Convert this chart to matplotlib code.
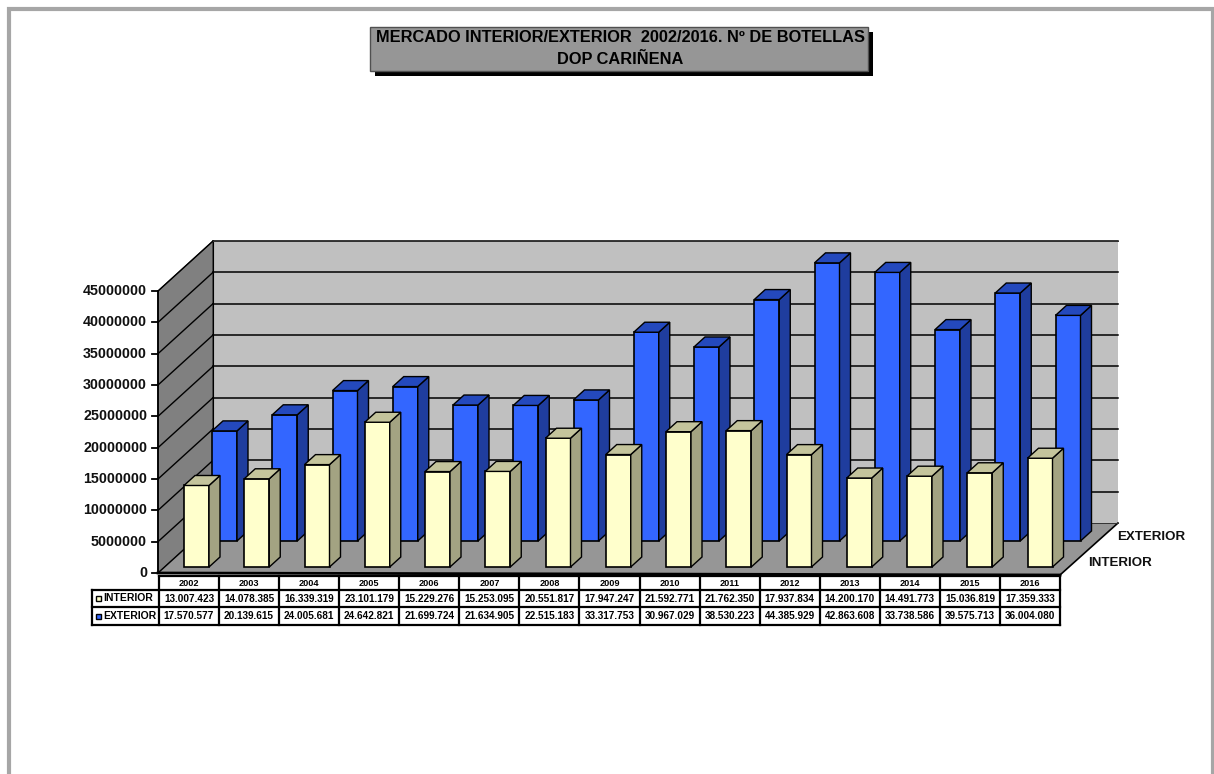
import matplotlib
matplotlib.use('Agg')
import matplotlib.pyplot as plt
from matplotlib.patches import Rectangle, Polygon
from matplotlib.transforms import Affine2D, IdentityTransform, blended_transform_factory

plt.rcParams['font.family'] = ['Liberation Sans', 'DejaVu Sans']
plt.rcParams['font.weight'] = 'bold'

#data
years = ['2002', '2003', '2004', '2005', '2006', '2007', '2008', '2009',
         '2010', '2011', '2012', '2013', '2014', '2015', '2016']
interior = [13007423, 14078385, 16339319, 23101179, 15229276, 15253095, 20551817, 17947247,
            21592771, 21762350, 17937834, 14200170, 14491773, 15036819, 17359333]
exterior = [17570577, 20139615, 24005681, 24642821, 21699724, 21634905, 22515183, 33317753,
            30967029, 38530223, 44385929, 42863608, 33738586, 39575713, 36004080]
yticks = [0, 5000000, 10000000, 15000000, 20000000, 25000000, 30000000, 35000000, 40000000, 45000000]
title = 'MERCADO INTERIOR/EXTERIOR  2002/2016. Nº DE BOTELLAS\nDOP CARIÑENA'

#layout in pixels
W, H = 1214, 774
x0, step = 184, 60.25
y0, per_unit = 573, 31.33 / 5000000
bar_w = 25
dep_x, dep_y = 11, 10
wall_x, wall_y = 55, 50

fig = plt.figure(figsize=(W / 100, H / 100), dpi=100, facecolor='white')
ax = fig.add_axes([0, 0, 1, 1])
ax.set_xlim(-x0 / step, (W - x0) / step)
ax.set_ylim(-(H - y0) / per_unit, y0 / per_unit)
ax.axis('off')

pix = Affine2D().scale(1, -1).translate(0, H)
ident = IdentityTransform()
y_pix = blended_transform_factory(pix, ax.transData)

def poly(points, **kw):
    ax.add_patch(Polygon(points, closed=True, transform=pix, **kw))

def line(xs, ys, lw=1.5, color='black', tr=pix, z=2):
    ax.plot(xs, ys, color=color, lw=lw, transform=tr, solid_capstyle='projecting',
            solid_joinstyle='miter', zorder=z)

#page border
line([9, 9, W - 1, W - 1], [H, 8.5, 8.5, H], lw=3, color='#a6a6a6')

#title box
ax.add_patch(Rectangle((375, 32), 498, 44, transform=pix, fc='black', ec='none'))
ax.add_patch(Rectangle((370, 27), 498, 44, transform=pix, fc='#969696', ec='#505050', lw=1))
ax.text(620.5, 37.5, title.split('\n')[0], transform=pix, ha='center', va='center', fontsize=11.8, color='black')
ax.text(620.5, 59, title.split('\n')[1], transform=pix, ha='center', va='center', fontsize=11.8, color='black')

#walls and floor
left, right, floor_y = 158, 1060, y0
poly([(left, floor_y), (left + wall_x, floor_y - wall_y), (left + wall_x, 241), (left, 291)],
     fc='#808080', ec='#222222', lw=0.8)
poly([(left + wall_x, floor_y - wall_y), (right + 58, floor_y - wall_y), (right + 58, 241),
      (left + wall_x, 241)], fc='#c0c0c0', ec='none')
poly([(left, floor_y), (left + wall_x, floor_y - wall_y), (right + 58, floor_y - wall_y), (right, floor_y + 2)],
     fc='#969696', ec='none')
line([left, right], [floor_y, floor_y + 2], lw=2)
line([right, right + 58], [floor_y + 2, floor_y - wall_y], lw=1.2)

#gridlines and y axis
for v in yticks:
    y = y0 - v * per_unit
    line([left, left + wall_x], [y, y - wall_y], lw=1)
    if v > 0:
        line([left + wall_x, right + 58], [y - wall_y, y - wall_y], lw=1.1)
    ax.plot([152, left], [v, v], color='black', lw=1.3, transform=y_pix, zorder=2)
    ax.text(147, v, str(v), transform=y_pix, ha='right', va='center', fontsize=10.3, color='#111111')
line([left, left], [291, floor_y], lw=1.3)
line([left + wall_x, left + wall_x], [241, floor_y - wall_y], lw=0.8)
line([left + wall_x, right + 58], [241, 241], lw=0.7, color='#333333')
line([left + wall_x, right + 58], [floor_y - wall_y, floor_y - wall_y], lw=0.7, color='#333333')

def bar3d(i, val, off_x, off_y, front, side, top, z):
    tr = ax.transData + Affine2D().translate(off_x, off_y)
    (xa, ya), (_, yb) = tr.transform([(i, 0), (i, val)])
    xb = xa + bar_w
    ax.add_patch(Rectangle((xa, ya), bar_w, yb - ya, transform=ident, fc=front, ec='black', lw=1.2, zorder=z))
    ax.add_patch(Polygon([(xb, ya), (xb + dep_x, ya + dep_y), (xb + dep_x, yb + dep_y), (xb, yb)],
                         transform=ident, fc=side, ec='black', lw=1, zorder=z))
    ax.add_patch(Polygon([(xa, yb), (xa + dep_x, yb + dep_y), (xb + dep_x, yb + dep_y), (xb, yb)],
                         transform=ident, fc=top, ec='black', lw=1, zorder=z))

for i, v in enumerate(exterior):
    bar3d(i, v, 28, 32, '#3366ff', '#1f3d9e', '#2449bd', 3 + i * 0.01)
for i, v in enumerate(interior):
    bar3d(i, v, 0, 6, '#ffffcc', '#a3a382', '#c4c49c', 4 + i * 0.01)

#depth labels
ax.text(1117, 537, 'EXTERIOR', transform=pix, ha='left', va='center', fontsize=9.6, color='#111111')
ax.text(1088, 563, 'INTERIOR', transform=pix, ha='left', va='center', fontsize=9.6, color='#111111')

#data table
def fmt(v):
    return f'{v:,}'.replace(',', '.')

tab_left, tab_right = 159, 1060
col_w = (tab_right - tab_left) / len(years)
rows = [576, 590, 607, 625]
line([tab_left, tab_right], [rows[0], rows[0]], lw=1.6, z=5)
for y in rows[1:]:
    line([92, tab_right], [y, y], lw=1.6, z=5)
line([92, 92], [rows[1], rows[3]], lw=1.6, z=5)
for c in range(len(years) + 1):
    cx = tab_left + c * col_w
    line([cx, cx], [rows[0], rows[3]], lw=1.6, z=5)
for c, yr in enumerate(years):
    cx = tab_left + (c + 0.5) * col_w
    ax.text(cx, 583.5, yr, transform=pix, ha='center', va='center', fontsize=6.6, zorder=6)
    ax.text(cx, 598.5, fmt(interior[c]), transform=pix, ha='center', va='center', fontsize=7.2, zorder=6)
    ax.text(cx, 616, fmt(exterior[c]), transform=pix, ha='center', va='center', fontsize=7.2, zorder=6)

#table legend
ax.add_patch(Rectangle((96, 596), 5, 5, transform=pix, fc='#ffffcc', ec='black', lw=1, zorder=6))
ax.add_patch(Rectangle((96, 614), 5, 5, transform=pix, fc='#3366ff', ec='black', lw=1, zorder=6))
ax.text(103, 598, 'INTERIOR', transform=pix, ha='left', va='center', fontsize=7.5, zorder=6)
ax.text(103, 616, 'EXTERIOR', transform=pix, ha='left', va='center', fontsize=7.5, zorder=6)

fig.savefig('out.png', dpi=100, facecolor='white')
